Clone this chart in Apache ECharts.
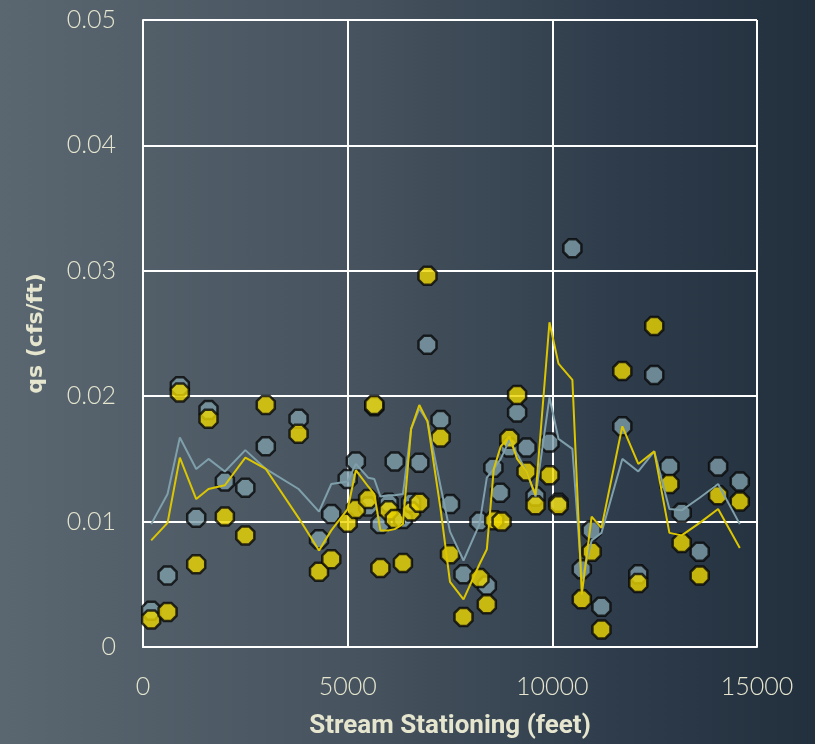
<!DOCTYPE html>
<html>
<head>
<meta charset="utf-8">
<script src="https://cdn.jsdelivr.net/npm/echarts@6/dist/echarts.min.js"></script>
<style>
html,body{margin:0;padding:0;}
#c{width:815px;height:744px;background:linear-gradient(90deg,#5a6771 0%,#46535e 45%,#2f3c4b 75%,#222f3d 100%);}
</style>
</head>
<body>
<div id="c"></div>
<script>
// Scatter: blue series (station ft, qs)
const blueX = [200,600,900,1300,1600,2000,2500,3000,3800,4300,4600,5000,5200,5500,5650,5800,6000,6150,6350,6550,6750,6950,7270,7500,7830,8220,8400,8560,8720,8950,9140,9370,9590,9930,10150,10490,10720,10960,11200,11710,12100,12490,12860,13160,13600,14050,14580];
const blueY = [0.0029,0.0057,0.0208,0.0103,0.0189,0.0132,0.0127,0.0160,0.0182,0.0086,0.0106,0.0134,0.0148,0.0112,0.0192,0.0098,0.0115,0.0148,0.0102,0.0115,0.0147,0.0241,0.0181,0.0114,0.0058,0.0100,0.0049,0.0143,0.0123,0.0159,0.0187,0.0159,0.0120,0.0163,0.0115,0.0318,0.0062,0.0093,0.0032,0.0176,0.0058,0.0217,0.0144,0.0107,0.0076,0.0144,0.0132];
// Scatter: yellow series
const yellowX = [200,600,900,1300,1600,2000,2500,3000,3800,4300,4600,5000,5200,5500,5650,5800,6000,6150,6350,6550,6750,6950,7270,7500,7830,8220,8400,8580,8760,8950,9140,9370,9590,9930,10150,10720,10960,11200,11710,12100,12490,12860,13160,13600,14050,14580];
const yellowY = [0.0022,0.0028,0.0203,0.0066,0.0182,0.0104,0.0089,0.0193,0.0170,0.0060,0.0070,0.0099,0.0110,0.0118,0.0193,0.0063,0.0109,0.0102,0.0067,0.0108,0.0115,0.0296,0.0167,0.0074,0.0024,0.0055,0.0034,0.0101,0.0100,0.0166,0.0201,0.0140,0.0113,0.0137,0.0113,0.0038,0.0076,0.0014,0.0220,0.0051,0.0256,0.0130,0.0083,0.0057,0.0121,0.0116];
// Lines
const lineX = [200,600,900,1300,1600,2000,2500,3000,3800,4300,4600,5000,5200,5500,5650,5800,6000,6150,6350,6550,6750,6950,7270,7500,7830,8220,8400,8570,8740,8950,9140,9370,9590,9930,10150,10490,10720,10960,11200,11710,12100,12490,12860,13160,13600,14050,14580];
const blueLine = [0.0098,0.0122,0.0167,0.0142,0.0150,0.0140,0.0157,0.0142,0.0126,0.0108,0.0130,0.0132,0.0146,0.0135,0.0134,0.0120,0.0121,0.0121,0.0122,0.0174,0.0190,0.0180,0.0128,0.0092,0.0069,0.0098,0.0135,0.0142,0.0150,0.0165,0.0154,0.0140,0.0120,0.0199,0.0166,0.0158,0.0054,0.0085,0.0091,0.0150,0.0140,0.0156,0.0110,0.0109,0.0119,0.0130,0.0098];
const yellowLine = [0.0085,0.0099,0.0151,0.0118,0.0126,0.0129,0.0151,0.0142,0.0103,0.0077,0.0093,0.0110,0.0141,0.0128,0.0122,0.0093,0.0093,0.0094,0.0098,0.0174,0.0193,0.0180,0.0110,0.0052,0.0038,0.0066,0.0078,0.0142,0.0160,0.0168,0.0150,0.0140,0.0121,0.0259,0.0226,0.0213,0.0042,0.0104,0.0095,0.0176,0.0146,0.0156,0.0091,0.0089,0.0099,0.0110,0.0079];

const zip = (a,b)=>a.map((v,i)=>[v,b[i]]);
const oct = 'path://M29,0 L71,0 L100,29 L100,71 L71,100 L29,100 L0,71 L0,29 Z';
const labelColor = '#e6e6cf';
const chart = echarts.init(document.getElementById('c'));
chart.setOption({
  backgroundColor: 'transparent',
  animation: false,
  grid: {left:143, right:58, top:20, bottom:96},
  xAxis: {
    type:'value', min:0, max:15000, interval:5000,
    name:'Stream Stationing (feet)', nameLocation:'middle', nameGap:66,
    nameTextStyle:{color:labelColor, fontSize:26, fontWeight:'bold', fontFamily:'Roboto, sans-serif'},
    axisLine:{show:true, lineStyle:{color:'#ffffff', width:2}},
    axisTick:{show:false},
    axisLabel:{color:labelColor, fontSize:25, margin:27, fontFamily:'Lato, sans-serif', fontWeight:300, formatter:v=>String(v)},
    splitLine:{show:true, lineStyle:{color:'#ffffff', width:2}}
  },
  yAxis: {
    type:'value', min:0, max:0.05, interval:0.01,
    name:'qs (cfs/ft)', nameLocation:'middle', nameGap:96,
    nameTextStyle:{color:labelColor, fontSize:22, fontWeight:'bold', fontFamily:'DejaVu Sans, sans-serif'},
    axisLine:{show:true, lineStyle:{color:'#ffffff', width:2}},
    axisTick:{show:false},
    axisLabel:{color:labelColor, fontSize:25, margin:27, fontFamily:'Lato, sans-serif', fontWeight:300, formatter:v=>String(+v.toFixed(2))},
    splitLine:{show:true, lineStyle:{color:'#ffffff', width:2}}
  },
  series: [
    {type:'scatter', data:zip(blueX,blueY), symbol:oct, symbolSize:18, z:2,
     itemStyle:{color:'#7d9ca8', borderColor:'#080808', borderWidth:2.5}},
    {type:'scatter', data:zip(yellowX,yellowY), symbol:oct, symbolSize:18, z:3,
     itemStyle:{color:'#ecd600', borderColor:'#080808', borderWidth:2.5}},
    {type:'line', data:zip(lineX,blueLine), showSymbol:false, symbol:'none', z:4,
     lineStyle:{color:'#7f9faa', width:2}},
    {type:'line', data:zip(lineX,yellowLine), showSymbol:false, symbol:'none', z:5,
     lineStyle:{color:'#dcc600', width:2}}
  ]
});
</script>
</body>
</html>
